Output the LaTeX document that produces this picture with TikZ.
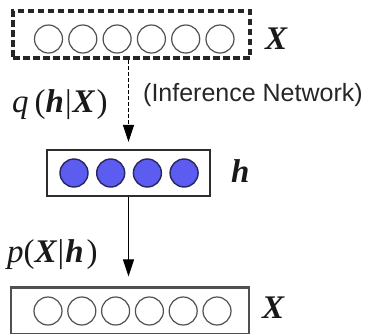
\documentclass[tikz,border=0pt]{standalone}
\usepackage{fontspec}
\newfontfamily\labelsans{Liberation Sans}
\newfontfamily\varserif{Liberation Serif}
\usetikzlibrary{arrows.meta}
\definecolor{unitblue}{RGB}{92,92,240}
\definecolor{unitedge}{RGB}{38,38,96}
\definecolor{boxline}{RGB}{45,45,45}
\definecolor{ringline}{RGB}{80,80,80}
% bold italic variable symbols
\newcommand{\bvar}[1]{{\bfseries\itshape #1}}

\begin{document}
\begin{tikzpicture}[x=1pt,y=-1pt,
  layer/.style={draw=boxline, line width=2.2pt, rectangle, inner sep=0pt},
  ring/.style={circle, draw=ringline, line width=1.2pt, minimum size=28pt, inner sep=0pt},
  unit/.style={circle, draw=unitedge, fill=unitblue, line width=1.4pt, minimum size=28pt, inner sep=0pt},
  varlabel/.style={anchor=base west, inner sep=0pt, text=black!90,
                   font=\varserif\fontsize{33}{38}\selectfont},
  link/.style={line width=1pt, draw=black, -{Triangle[length=17pt,width=11pt]}},
]
\useasboundingbox (0,0) rectangle (367,333);

% observed input layer (inference side)
\node[layer, draw=black!85, line width=3.5pt, dash pattern=on 6.5pt off 3.5pt,
      minimum width=237pt, minimum height=47pt] (xin) at (131.5,34.5) {};
\foreach \i in {0,...,5}
  \node[ring] (xin-\i) at ({48.5+34.3*\i},39) {};

% hidden layer
\node[layer, minimum width=163pt, minimum height=46pt] (hid) at (128.5,173) {};
\foreach \i in {0,...,3}
  \node[unit] (hid-\i) at ({74+36.7*\i},173) {};

% reconstructed layer (generative side)
\node[layer, draw=ringline, minimum width=238pt, minimum height=47pt] (xout) at (130,311) {};
\foreach \i in {0,...,5}
  \node[ring] (xout-\i) at ({48+33.8*\i},311) {};

% connectors
\draw[link, dash pattern=on 4pt off 2pt, shorten >=7pt] (xin.south -| hid.center) -- (hid.north);
\draw[link, shorten >=10pt] (hid.south) -- (xout.north -| hid.center);

% labels
\node[varlabel] (xin-lab) at (265,49) {\bvar{X}};
\node[varlabel] (hid-lab) at (231,182) {\bvar{h}};
\node[varlabel] (xout-lab) at (262,318) {\bvar{X}};
\node[varlabel] (q-lab) at (12,112)
  {\textit{q}\hspace{6pt}(\bvar{h}\hspace{1pt}|\hspace{1pt}\bvar{X}\hspace{2pt})};
\node[varlabel] (p-lab) at (7,262)
  {\textit{p}(\bvar{X}\hspace{1pt}|\hspace{1pt}\bvar{h}\hspace{3pt})};
\node[anchor=base west, inner sep=0pt, text=black!85,
      font=\labelsans\fontsize{25}{29}\selectfont] (inf-lab) at (143,101) {(Inference Network)};
\end{tikzpicture}
\end{document}
